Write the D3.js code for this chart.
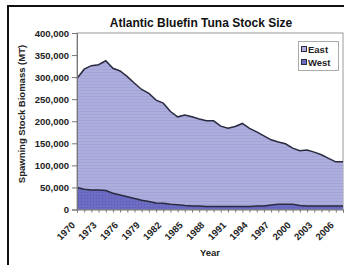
<!DOCTYPE html>
<html><head><meta charset="utf-8">
<script src="https://cdn.jsdelivr.net/npm/d3@7"></script>
<style>body{margin:0;background:#fff}svg{display:block;font-family:"Liberation Sans",Arial,sans-serif}</style>
</head><body>
<svg id="c" width="344" height="265"></svg>
<script>
const years = d3.range(1970, 2008);
const tickYears = [1970,1973,1976,1979,1982,1985,1988,1991,1994,1997,2000,2003,2006];
const yTicks = [0,50000,100000,150000,200000,250000,300000,350000,400000];
const west = [50,46,44,44,43,37,33,29,25,21,18,15,14,12,11,9,8,8,7,7,7,7,7,7,7,8,8,10,12,12,12,9,8,8,8,8,8,8].map(v=>v*1000);
const east = [247,272,282,284,294,283,281,272,261,251,245,233,227,210,199,205,202,197,194,194,182,177,181,188,177,168,159,148,141,137,127,124,127,122,116,108,100,100].map(v=>v*1000);
const seriesNames = ["West","East"];

const svg = d3.select("#c");
const defs = svg.append("defs");
const pe = defs.append("pattern").attr("id","pe").attr("width",4).attr("height",3).attr("patternUnits","userSpaceOnUse");
pe.append("rect").attr("width",4).attr("height",3).attr("fill","#adadde");
pe.append("rect").attr("width",4).attr("height",1).attr("fill","#a3a3d6");
const pw = defs.append("pattern").attr("id","pw").attr("width",3).attr("height",3).attr("patternUnits","userSpaceOnUse");
pw.append("rect").attr("width",3).attr("height",3).attr("fill","#6c6cc2");
pw.append("rect").attr("width",1).attr("height",1).attr("fill","#5a5ab2");

// outer frame
svg.append("rect").attr("x",8).attr("y",6).attr("width",345).attr("height",262)
  .attr("fill","none").attr("stroke","#111").attr("stroke-width",2);

const x = d3.scaleLinear().domain([1970,2007]).range([77,343]);
const y = d3.scaleLinear().domain([0,400000]).range([209.5,33]);

const data = years.map((yr,i)=>({year:yr, West:west[i], East:east[i]}));
const stack = d3.stack().keys(seriesNames)(data);
const area = d3.area().x(d=>x(d.data.year)).y0(d=>y(d[0])).y1(d=>y(d[1]));
const line = d3.line().x(d=>x(d.data.year)).y(d=>y(d[1]));

svg.append("rect").attr("x",77).attr("y",33).attr("width",266).attr("height",176.5)
  .attr("fill","#fff").attr("stroke","#999").attr("stroke-width",1);

const fills = {West:"url(#pw)", East:"url(#pe)"};
stack.forEach(s=>{
  svg.append("path").datum(s).attr("d",area).attr("fill",fills[s.key]);
});
stack.forEach(s=>{
  svg.append("path").datum(s).attr("d",line).attr("fill","none").attr("stroke","#2a2a40").attr("stroke-width",1.5);
});

// y axis
const ya = svg.append("g").attr("transform","translate(77,0)")
  .call(d3.axisLeft(y).tickValues(yTicks).tickSize(5).tickPadding(3).tickFormat(d3.format(",")));
ya.select(".domain").attr("stroke","#777");
ya.selectAll(".tick line").attr("stroke","#777");
ya.selectAll("text").attr("font-size",9.5).attr("font-weight","bold").attr("fill","#222").attr("font-family","Liberation Sans, Arial, sans-serif");

// x axis
const xa = svg.append("g").attr("transform","translate(0,209.5)")
  .call(d3.axisBottom(x).tickValues(years).tickSize(3).tickFormat(""));
xa.select(".domain").attr("stroke","#777");
xa.selectAll(".tick line").attr("stroke","#777");
svg.append("g").selectAll("text").data(tickYears).join("text")
  .attr("transform",d=>`translate(${x(d)-6},221) rotate(-45)`)
  .attr("text-anchor","end").attr("dy","0.7em")
  .attr("font-size",9.5).attr("font-weight","bold").attr("fill","#222")
  .text(d=>d);

// titles
svg.append("text").attr("x",201).attr("y",27).attr("text-anchor","middle")
  .attr("font-size",12).attr("font-weight","bold").attr("fill","#111").text("Atlantic Bluefin Tuna Stock Size");
svg.append("text").attr("transform","translate(25,114) rotate(-90)").attr("text-anchor","middle")
  .attr("font-size",9.5).attr("font-weight","bold").attr("fill","#222").text("Spawning Stock Biomass (MT)");
svg.append("text").attr("x",210).attr("y",256).attr("text-anchor","middle")
  .attr("font-size",9.5).attr("font-weight","bold").attr("fill","#222").text("Year");

// legend
const lg = svg.append("g");
lg.append("rect").attr("x",298.5).attr("y",41.5).attr("width",40).attr("height",29)
  .attr("fill","#fff").attr("stroke","#aaa");
const legendItems = [{k:"East",c:"#adadde"},{k:"West",c:"#6c6cc2"}];
legendItems.forEach((it,i)=>{
  lg.append("rect").attr("x",301.5).attr("y",46.5+i*13).attr("width",5).attr("height",5)
    .attr("fill",it.c).attr("stroke","#2a2a40");
  lg.append("text").attr("x",308).attr("y",53+i*13).attr("font-size",9.5).attr("font-weight","bold")
    .attr("fill","#222").text(it.k);
});
</script>
</body></html>
